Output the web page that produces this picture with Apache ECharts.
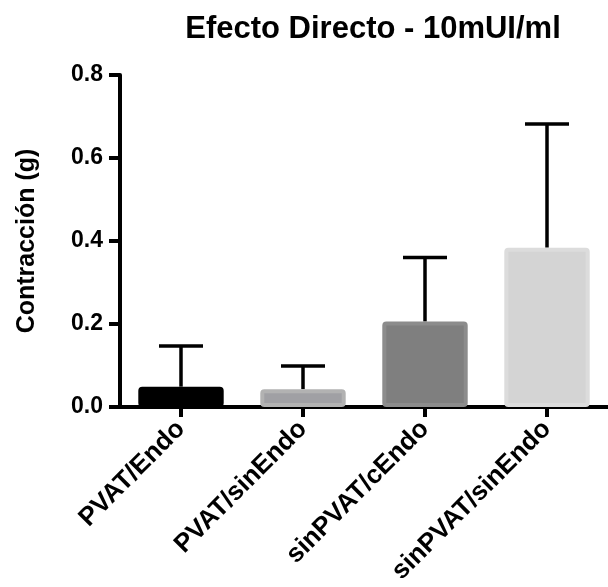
<!DOCTYPE html>
<html><head><meta charset="utf-8">
<script src="https://cdn.jsdelivr.net/npm/echarts@6/dist/echarts.min.js"></script>
<style>html,body{margin:0;padding:0;background:#fff}#c{width:608px;height:587px}</style>
</head><body><div id="c"></div>
<script>
const categories = ['PVAT/Endo','PVAT/sinEndo','sinPVAT/cEndo','sinPVAT/sinEndo'];
const means = [0.049, 0.043, 0.206, 0.384];
const upper = [0.147, 0.099, 0.360, 0.682];
const fillColors = ['#000000','#a0a0a4','#7f7f7f','#d4d4d4'];
const borderColors = ['#000000','#b2b2b2','#8c8c8c','#dcdcdc'];
const yTicks = [0, 0.2, 0.4, 0.6, 0.8];

const chart = echarts.init(document.getElementById('c'));
const font = 'Liberation Sans, Arial, sans-serif';
chart.setOption({
  animation: false,
  title: {text: 'Efecto Directo - 10mUI/ml', left: 368, top: 9, textAlign: 'center',
    textStyle: {fontFamily: font, fontWeight: 'bold', fontSize: 31, color: '#000'}},
  grid: {left: 120, right: -10, top: 75, bottom: 180, containLabel: false},
  xAxis: {type: 'category', data: categories,
    axisLine: {lineStyle: {color: '#000', width: 4}},
    axisTick: {show: true, alignWithLabel: true, length: 10, lineStyle: {color: '#000', width: 4}},
    axisLabel: {rotate: 45, margin: 18, color: '#000', fontFamily: font, fontWeight: 'bold', fontSize: 26}},
  yAxis: {type: 'value', min: 0, max: 0.8, interval: 0.2,
    name: 'Contracción (g)', nameLocation: 'middle', nameGap: 80, nameRotate: 90,
    nameTextStyle: {color: '#000', fontFamily: font, fontWeight: 'bold', fontSize: 25},
    splitLine: {show: false},
    axisLine: {show: true, lineStyle: {color: '#000', width: 4}},
    axisTick: {show: true, length: 11, lineStyle: {color: '#000', width: 4}},
    axisLabel: {margin: 17, color: '#000', fontFamily: font, fontWeight: 'bold', fontSize: 23,
      formatter: v => v.toFixed(1)}},
  series: [
    {type: 'custom', z: 1,
      data: categories.map((c, i) => [i, means[i], upper[i]]),
      renderItem: function (params, api) {
        const base = api.coord([api.value(0), api.value(1)]);
        const top = api.coord([api.value(0), api.value(2)]);
        const half = 22;
        const st = {stroke: '#000', lineWidth: 3.5};
        return {type: 'group', children: [
          {type: 'line', shape: {x1: base[0], y1: base[1], x2: top[0], y2: top[1]}, style: st},
          {type: 'line', shape: {x1: top[0] - half, y1: top[1], x2: top[0] + half, y2: top[1]}, style: st}
        ]};
      }},
    {type: 'bar', z: 2, barWidth: '70%',
      data: means.map((v, i) => ({value: v, itemStyle: {color: fillColors[i], borderColor: borderColors[i], borderWidth: 4, borderRadius: 2}}))}
  ]
});
</script></body></html>
